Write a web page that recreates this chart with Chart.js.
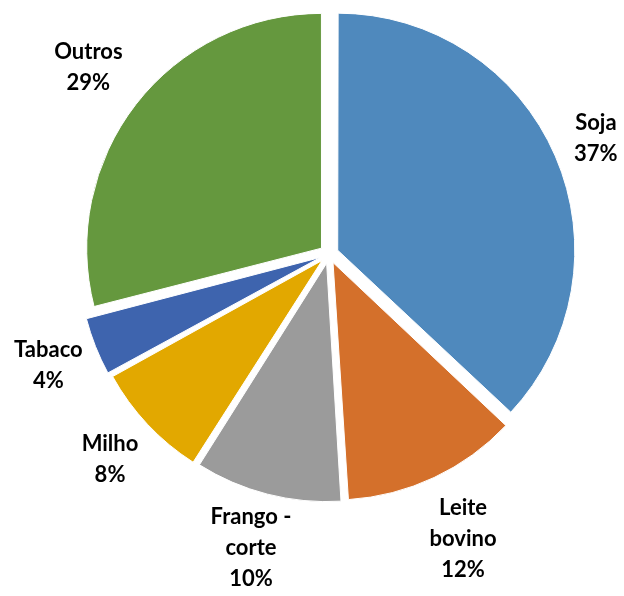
<!DOCTYPE html>
<html>
<head>
<meta charset="utf-8">
<script src="https://cdn.jsdelivr.net/npm/chart.js@4"></script>
<style>
  html, body { margin: 0; padding: 0; background: #fff; }
  #wrap { width: 624px; height: 596px; }
</style>
</head>
<body>
<div id="wrap"><canvas id="pie" width="624" height="596"></canvas></div>
<script>
// data
var labels = [["Soja"], ["Leite", "bovino"], ["Frango -", "corte"], ["Milho"], ["Tabaco"], ["Outros"]];
var shares = [37, 12, 10, 8, 4, 29];
var colors = ['#4F89BD', '#D4702B', '#9B9B9B', '#E2A800', '#3E64AE', '#65983E'];

// draws the outside-end labels next to each slice
var outsideLabels = {
    id: 'outsideLabels',
    afterDatasetsDraw: function(chart) {
        var ctx = chart.ctx;
        var meta = chart.getDatasetMeta(0);
        var lineH = 31;
        ctx.save();
        ctx.font = 'bold 22px Lato';
        ctx.fillStyle = '#000';
        ctx.textAlign = 'center';
        ctx.textBaseline = 'middle';
        meta.data.forEach(function(arc, i) {
            var p = arc.getProps(['x', 'y', 'startAngle', 'endAngle', 'outerRadius'], true);
            var mid = (p.startAngle + p.endAngle) / 2;
            var lines = labels[i].concat([shares[i] + '%']);
            var w = 0;
            lines.forEach(function(t) { w = Math.max(w, ctx.measureText(t).width); });
            var h = lines.length * lineH;
            var dx = Math.cos(mid), dy = Math.sin(mid);
            var ext = Math.abs(dx) * w / 2 + Math.abs(dy) * h / 2;
            var d = p.outerRadius + 12 + 12 + ext;
            var cx = p.x + dx * d, cy = p.y + dy * d;
            // keep the block inside the canvas
            cy = Math.min(cy, chart.height - h / 2 - 2);
            lines.forEach(function(t, k) {
                ctx.fillText(t, cx, cy - h / 2 + lineH / 2 + k * lineH);
            });
        });
        ctx.restore();
    }
};

var chart = new Chart(document.getElementById('pie').getContext('2d'), {
    type: 'pie',
    data: {
        labels: labels.map(function(l) { return l.join(' '); }),
        datasets: [{
            data: shares,
            backgroundColor: colors,
            borderColor: '#fff',
            borderWidth: 1,
            offset: 38
        }]
    },
    options: {
        responsive: false,
        animation: false,
        layout: { padding: { top: -5, bottom: 88, left: 34, right: 0 } },
        plugins: {
            legend: { display: false },
            tooltip: { enabled: false }
        }
    },
    plugins: [outsideLabels]
});
</script>
</body>
</html>
